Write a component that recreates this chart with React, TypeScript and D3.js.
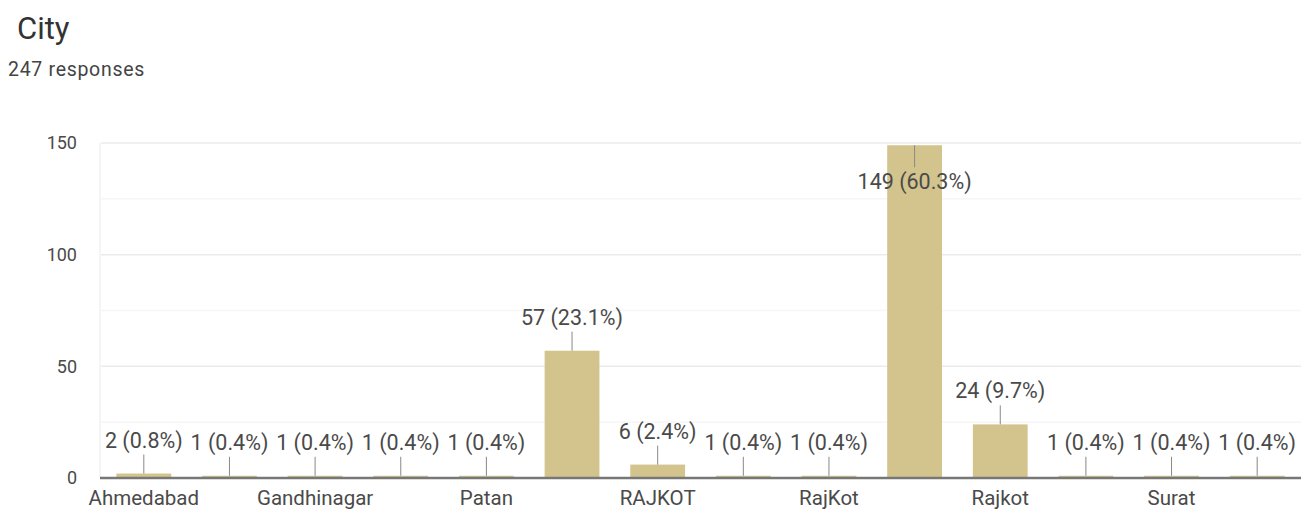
import React from "react";
import * as d3 from "d3";

const categories = [
  "Ahmedabad", "Amreli", "Gandhinagar", "Jamnagar", "Patan", "Rajkot ",
  "RAJKOT", "RAJKOT ", "RajKot", "rajkot", "Rajkot", "Rajkot city", "Surat", "Vadodara",
];
const values = [2, 1, 1, 1, 1, 57, 6, 1, 1, 149, 24, 1, 1, 1];
const percents = ["0.8%", "0.4%", "0.4%", "0.4%", "0.4%", "23.1%", "2.4%", "0.4%", "0.4%", "60.3%", "9.7%", "0.4%", "0.4%", "0.4%"];
const yTicks = [0, 50, 100, 150];
const yMinorTicks = [25, 75, 125];
const title = "City";
const subtitle = "247 responses";

const W = 1301;
const H = 512;
const FONT = "Roboto, Arial, sans-serif";
const FS = 21.5;

export default function App() {
  const x = d3.scaleBand<string>().domain(categories).range([101, 1300]).paddingInner(0.36).paddingOuter(0.18);
  const y = d3.scaleLinear().domain([0, 150]).range([478, 143]);
  const bw = x.bandwidth();
  return (
    <svg width={W} height={H} style={{ position: "absolute", left: 0, top: 0, background: "#fff" }} fontFamily={FONT}>
      <text x={17} y={39} fontSize={31} fill="#333">{title}</text>
      <text x={8} y={76} fontSize={19.5} letterSpacing={0.7} fill="#444">{subtitle}</text>
      {yMinorTicks.map((t) => (
        <line key={"m" + t} x1={101} x2={1301} y1={y(t)} y2={y(t)} stroke="#f6f6f6" strokeWidth={1.5} />
      ))}
      {yTicks.filter((t) => t > 0).map((t) => (
        <line key={"g" + t} x1={101} x2={1301} y1={y(t)} y2={y(t)} stroke="#ebebeb" strokeWidth={1.5} />
      ))}
      <line x1={100} x2={100} y1={y(150)} y2={y(0)} stroke="#f2f2f2" strokeWidth={1.5} />
      {yTicks.map((t) => (
        <text key={"t" + t} x={77} y={y(t)} dy="0.36em" textAnchor="end" fontSize={18} fill="#4a4a4a">{t}</text>
      ))}
      {categories.map((c, i) => (
        <rect key={"b" + i} x={x(c)} y={y(values[i])} width={bw} height={y(0) - y(values[i])} fill="#d3c48d" />
      ))}
      <line x1={100} x2={1301} y1={y(0)} y2={y(0)} stroke="#777" strokeWidth={2.5} />
      {categories.map((c, i) => {
        const cx = (x(c) as number) + bw / 2;
        const top = y(values[i]);
        const inside = top - 38 < y(150);
        const label = `${values[i]} (${percents[i]})`;
        if (inside) {
          return (
            <g key={"a" + i}>
              <line x1={cx} x2={cx} y1={top} y2={top + 22} stroke="#888" strokeWidth={1} />
              <text x={cx} y={top + 44} textAnchor="middle" fontSize={FS} fill="#4a4a4a">{label}</text>
            </g>
          );
        }
        return (
          <g key={"a" + i}>
            <line x1={cx} x2={cx} y1={top} y2={top - 19} stroke="#888" strokeWidth={1} />
            <text x={cx} y={top - 26} textAnchor="middle" fontSize={FS} fill="#4a4a4a">{label}</text>
          </g>
        );
      })}
      {categories.map((c, i) =>
        i % 2 === 0 ? (
          <text key={"x" + i} x={(x(c) as number) + bw / 2} y={505} textAnchor="middle" fontSize={20.5} fill="#4a4a4a">{c}</text>
        ) : null
      )}
    </svg>
  );
}
